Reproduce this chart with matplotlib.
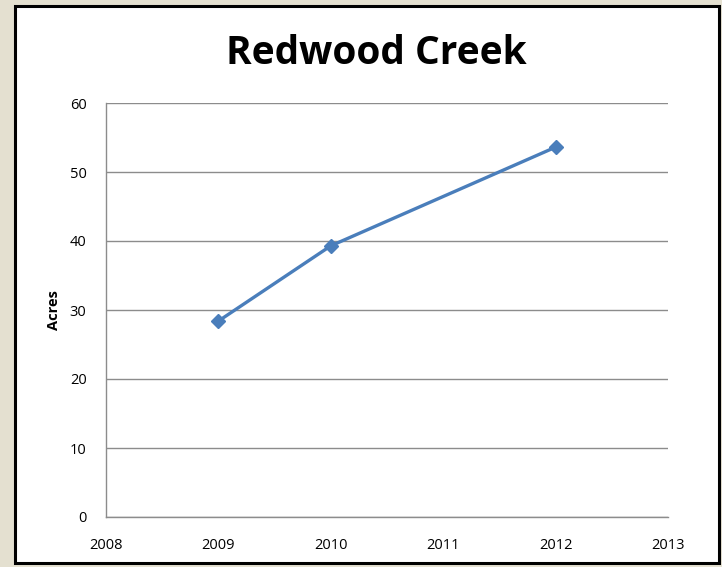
import matplotlib.pyplot as plt
from matplotlib.patches import Rectangle

# data
years = [2009, 2010, 2012]
acres = [28.4, 39.3, 53.6]
xticks = [2008, 2009, 2010, 2011, 2012, 2013]
yticks = [0, 10, 20, 30, 40, 50, 60]

plt.rcParams['font.family'] = ['Open Sans', 'DejaVu Sans']

fig = plt.figure(figsize=(7.22, 5.67), dpi=100)
fig.patch.set_facecolor('#e4e0d0')

# white chart area with black border, kept behind the axes
frame = Rectangle((15 / 722, 4 / 567), 704 / 722, 557 / 567, transform=fig.transFigure,
                  facecolor='white', edgecolor='black', linewidth=2.2, zorder=-10)
fig.patches.append(frame)

ax = fig.add_axes([106 / 722, 50 / 567, 562 / 722, 414 / 567])
ax.set_facecolor('none')

ax.plot(years, acres, color='#4a7ebb', linewidth=2.4, marker='D', markersize=7,
        markerfacecolor='#4a7ebb', markeredgecolor='#4a7ebb')

ax.set_xlim(2008, 2013)
ax.set_ylim(0, 60)
ax.set_xticks(xticks)
ax.set_yticks(yticks)
ax.set_xticklabels([str(x) for x in xticks], fontsize=10.5)
ax.set_yticklabels([str(y) for y in yticks], fontsize=10.5)
ax.tick_params(axis='x', length=0, pad=15)
ax.tick_params(axis='y', length=0, pad=14)
ax.yaxis.grid(True, color='#8c8c8c', linewidth=1)
ax.set_axisbelow(True)

for side in ['top', 'right']:
    ax.spines[side].set_visible(False)
for side in ['left', 'bottom']:
    ax.spines[side].set_color('#8c8c8c')
    ax.spines[side].set_linewidth(1)

ax.set_ylabel('Acres', fontsize=10.5, fontweight='bold', labelpad=6)

fig.text(376 / 722, 1 - 53 / 567, 'Redwood Creek', ha='center', va='center',
         fontsize=28, fontweight='bold')

fig.savefig('out.png', dpi=100, facecolor=fig.get_facecolor())
